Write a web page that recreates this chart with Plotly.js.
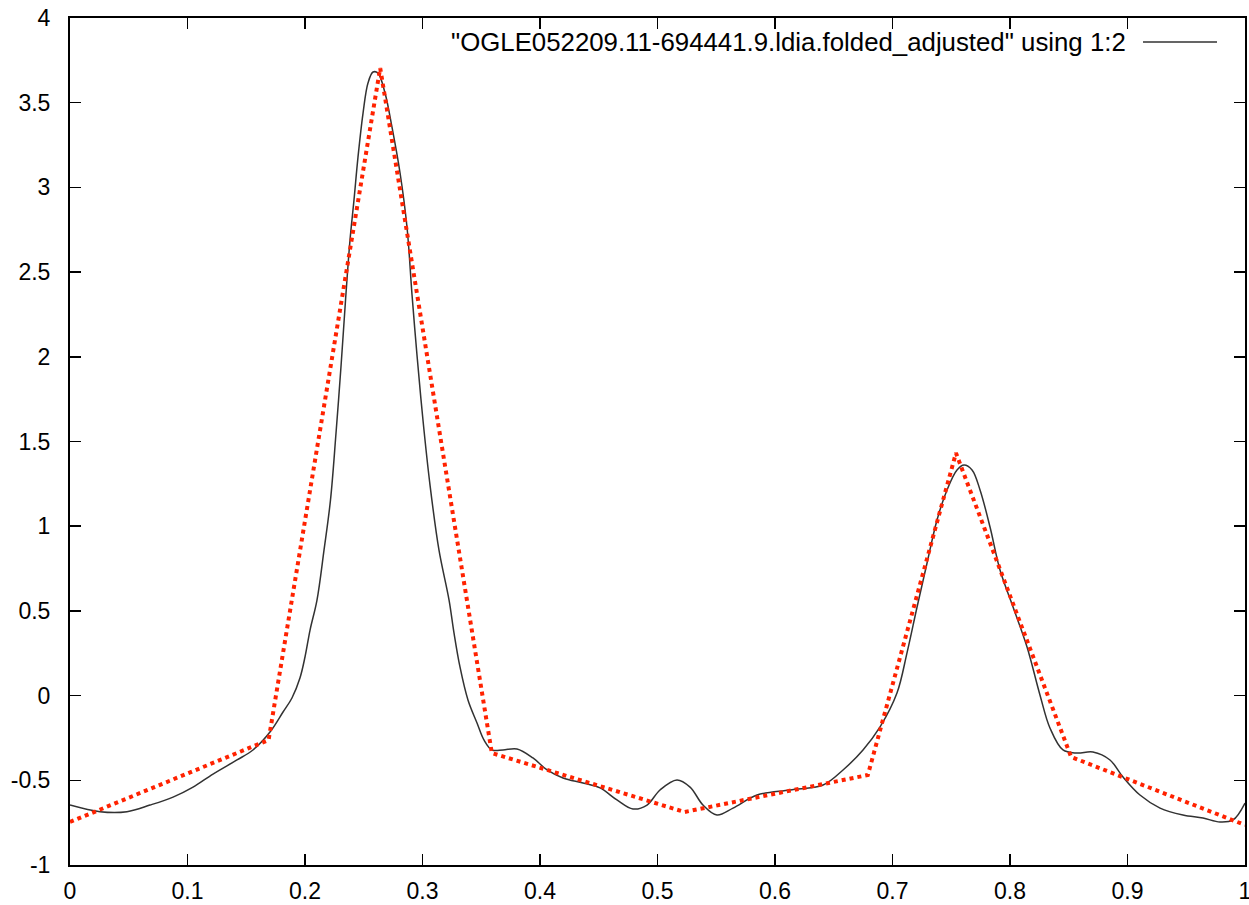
<!DOCTYPE html>
<html>
<head>
<meta charset="utf-8">
<script src="https://cdn.plot.ly/plotly-3.0.1.min.js"></script>
<style>html,body{margin:0;padding:0;background:#fff;}#chart{width:1249px;height:905px;}</style>
</head>
<body>
<div id="chart"></div>
<script>
// Smooth folded light curve (black)
var curvePhase = [0,0.0255,0.0485,0.0681,0.0877,0.1047,0.1217,0.1421,0.1557,0.1702,0.1813,0.1889,0.1957,0.2,0.2043,0.2102,0.2162,0.2217,0.2264,0.2306,0.2345,0.2383,0.2417,0.2451,0.2494,0.2536,0.2579,0.2621,0.2681,0.274,0.2809,0.2868,0.2911,0.2953,0.3004,0.3064,0.314,0.3226,0.3268,0.3319,0.3387,0.3464,0.3523,0.3591,0.3685,0.3804,0.394,0.406,0.4196,0.4366,0.4511,0.4655,0.4791,0.4911,0.5021,0.5166,0.5277,0.5387,0.5506,0.5643,0.5847,0.6128,0.6409,0.6579,0.6749,0.6894,0.7038,0.7123,0.7209,0.7294,0.7379,0.7464,0.7549,0.7609,0.7677,0.7745,0.783,0.7915,0.8026,0.8145,0.8255,0.834,0.8451,0.857,0.8706,0.8851,0.8962,0.9106,0.9277,0.9472,0.9643,0.9787,0.9898,1.0];
var curveValue = [-0.646,-0.685,-0.685,-0.646,-0.599,-0.54,-0.463,-0.38,-0.321,-0.215,-0.097,-0.014,0.104,0.228,0.387,0.564,0.86,1.155,1.55,1.94,2.335,2.689,2.926,3.179,3.439,3.616,3.681,3.675,3.557,3.357,3.085,2.766,2.365,2.011,1.627,1.243,0.86,0.564,0.37,0.169,-0.026,-0.162,-0.262,-0.321,-0.321,-0.315,-0.368,-0.439,-0.486,-0.516,-0.545,-0.616,-0.669,-0.646,-0.557,-0.498,-0.54,-0.646,-0.705,-0.664,-0.587,-0.557,-0.528,-0.439,-0.321,-0.185,0.015,0.251,0.523,0.783,1.037,1.214,1.332,1.361,1.332,1.214,0.995,0.741,0.523,0.287,0.004,-0.191,-0.321,-0.339,-0.333,-0.38,-0.481,-0.587,-0.664,-0.705,-0.723,-0.746,-0.734,-0.634];

// Piecewise linear model (red dotted)
var modelPhase = [0, 0.169, 0.264, 0.359, 0.523, 0.679, 0.754, 0.852, 1.0];
var modelValue = [-0.746, -0.262, 3.705, -0.339, -0.687, -0.469, 1.432, -0.362, -0.764];

var xTickVals = [0, 0.1, 0.2, 0.3, 0.4, 0.5, 0.6, 0.7, 0.8, 0.9, 1];
var xTickText = ['0', '0.1', '0.2', '0.3', '0.4', '0.5', '0.6', '0.7', '0.8', '0.9', '1'];
var yTickVals = [-1, -0.5, 0, 0.5, 1, 1.5, 2, 2.5, 3, 3.5, 4];
var yTickText = ['-1', '-0.5', '0', '0.5', '1', '1.5', '2', '2.5', '3', '3.5', '4'];

var legendLabel = '"OGLE052209.11-694441.9.ldia.folded_adjusted" using 1:2';

var traces = [
  {x: curvePhase, y: curveValue, type: 'scatter', mode: 'lines',
   line: {color: 'rgb(50,50,50)', width: 1.5, shape: 'spline', smoothing: 1},
   showlegend: false, hoverinfo: 'skip'},
  {x: modelPhase, y: modelValue, type: 'scatter', mode: 'lines',
   line: {color: '#ff2200', width: 4, dash: 'dot'},
   showlegend: false, hoverinfo: 'skip'}
];

var fnt = {family: '"Liberation Sans", Arial, sans-serif', size: 23, color: '#000'};
var legendFont = {family: '"Liberation Sans", Arial, sans-serif', size: 25.8, color: '#000'};

var axisCommon = {
  showgrid: false, zeroline: false, showline: true, linecolor: '#000', linewidth: 2,
  mirror: 'allticks', ticks: 'inside', ticklen: 11, tickwidth: 1.5, tickcolor: '#000',
  tickfont: fnt, fixedrange: true, ticklabeloverflow: 'allow'
};

var layout = {
  width: 1249, height: 905,
  margin: {l: 70, r: 4, t: 18, b: 40, pad: 0},
  paper_bgcolor: '#fff', plot_bgcolor: '#fff',
  font: fnt,
  xaxis: Object.assign({}, axisCommon, {range: [0, 1], tickmode: 'array', tickvals: xTickVals, ticktext: xTickText, ticklabelstandoff: 4}),
  yaxis: Object.assign({}, axisCommon, {range: [-1, 4], tickmode: 'array', tickvals: yTickVals, ticktext: yTickText, ticklabelstandoff: 13}),
  annotations: [{
    xref: 'paper', yref: 'paper', x: 0.9004, y: 0.9717, xanchor: 'right', yanchor: 'middle',
    text: legendLabel, showarrow: false, font: legendFont
  }],
  shapes: [{
    type: 'line', xref: 'paper', yref: 'paper', x0: 0.9132, x1: 0.9762, y0: 0.9717, y1: 0.9717,
    line: {color: 'rgb(50,50,50)', width: 1.5}
  }]
};

Plotly.newPlot('chart', traces, layout, {staticPlot: true, displayModeBar: false});
</script>
</body>
</html>
